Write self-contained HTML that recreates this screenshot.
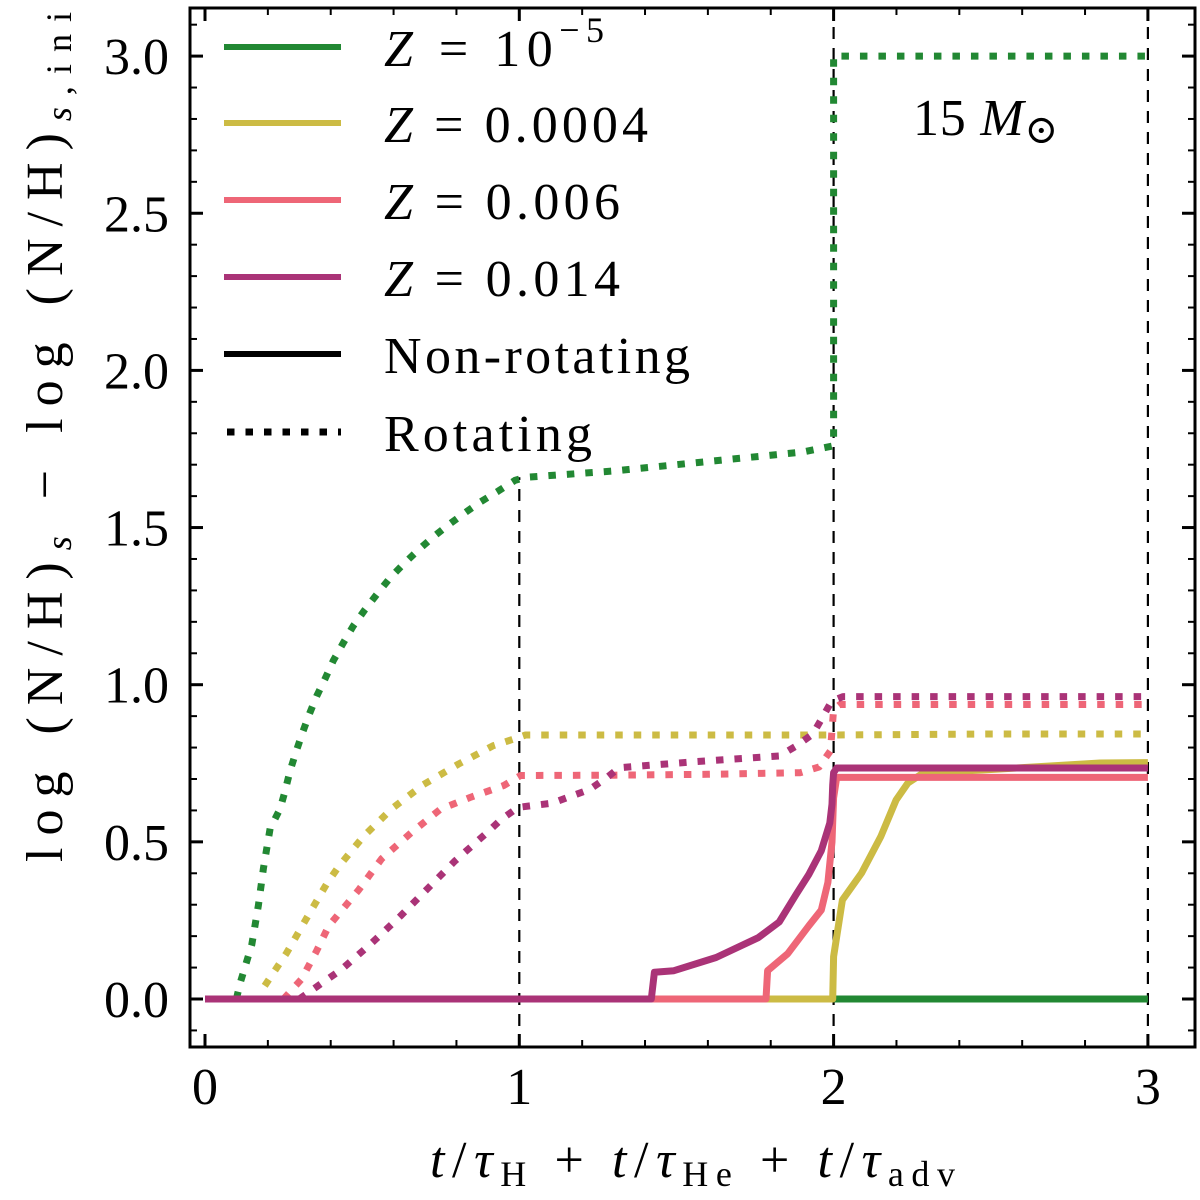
<!DOCTYPE html>
<html><head><meta charset="utf-8"><style>
html,body{margin:0;padding:0;background:#fff;}
svg{display:block;font-family:"Liberation Serif","DejaVu Serif",serif;}
</style></head><body>
<svg id="chart" width="1200" height="1200" viewBox="0 0 1200 1200" xmlns="http://www.w3.org/2000/svg">
<g id="plot"></g>
<g id="axes"></g>
<g id="legend">
  <line x1="224" y1="47" x2="341" y2="47" stroke="#228833" stroke-width="6"/>
  <text x="384" y="66" font-size="52" textLength="220" lengthAdjust="spacing"><tspan font-style="italic">Z</tspan> = 10<tspan font-size="36" dy="-24">−5</tspan></text>
  <line x1="224" y1="123" x2="341" y2="123" stroke="#CCBB44" stroke-width="6"/>
  <text x="384" y="142" font-size="52" textLength="264" lengthAdjust="spacing"><tspan font-style="italic">Z</tspan> = 0.0004</text>
  <line x1="224" y1="200" x2="341" y2="200" stroke="#EE6677" stroke-width="6"/>
  <text x="384" y="219" font-size="52" textLength="236" lengthAdjust="spacing"><tspan font-style="italic">Z</tspan> = 0.006</text>
  <line x1="224" y1="277" x2="341" y2="277" stroke="#AA3377" stroke-width="6"/>
  <text x="384" y="296" font-size="52" textLength="236" lengthAdjust="spacing"><tspan font-style="italic">Z</tspan> = 0.014</text>
  <line x1="224" y1="354" x2="341" y2="354" stroke="#000" stroke-width="6"/>
  <text x="384" y="373" font-size="52" textLength="306" lengthAdjust="spacing">Non-rotating</text>
  <line x1="227" y1="432" x2="341" y2="432" stroke="#000" stroke-width="7" stroke-dasharray="7.5 11"/>
  <text x="384" y="451" font-size="52" textLength="208" lengthAdjust="spacing">Rotating</text>
</g>
<text x="913" y="135" font-size="52" textLength="145" lengthAdjust="spacing">15 <tspan font-style="italic">M</tspan><tspan font-size="40" dy="8">⊙</tspan></text>
<text x="430" y="1177" font-size="52" textLength="525" lengthAdjust="spacing"><tspan font-style="italic">t</tspan>/<tspan font-style="italic">τ</tspan><tspan font-size="36" dy="9">H</tspan><tspan dy="-9"> + </tspan><tspan font-style="italic">t</tspan>/<tspan font-style="italic">τ</tspan><tspan font-size="36" dy="9">He</tspan><tspan dy="-9"> + </tspan><tspan font-style="italic">t</tspan>/<tspan font-style="italic">τ</tspan><tspan font-size="36" dy="9">adv</tspan></text>
<text transform="translate(62,862) rotate(-90)" font-size="52" textLength="850" lengthAdjust="spacing">log (N/H)<tspan font-size="36" font-style="italic" dy="9">s</tspan><tspan dy="-9"> − log (N/H)</tspan><tspan font-size="36" dy="9"><tspan font-style="italic">s</tspan>,ini</tspan></text>
</svg>
<script>
const xTicks = [0, 1, 2, 3];
const xTickLabels = ["0", "1", "2", "3"];
const yTicks = [0, 0.5, 1, 1.5, 2, 2.5, 3];
const yTickLabels = ["0.0", "0.5", "1.0", "1.5", "2.0", "2.5", "3.0"];
const phaseLines = [1, 2, 3];
const phaseLineTops = [1.66, 3.163, 3.163];

const rotZ1e5X = [0.1,0.111,0.149,0.17,0.186,0.207,0.239,0.255,0.27,0.29,0.311,0.331,0.355,0.382,0.408,0.44,0.472,0.509,0.548,0.589,0.631,0.679,0.727,0.774,0.827,0.877,0.933,0.986,1.02,1.3,1.6,1.9,2.0,2.0,2.5,3.0];
const rotZ1e5Y = [0,0.048,0.173,0.298,0.417,0.542,0.605,0.662,0.724,0.787,0.849,0.904,0.963,1.019,1.076,1.133,1.187,1.239,1.289,1.34,1.383,1.429,1.471,1.508,1.547,1.582,1.616,1.65,1.66,1.68,1.71,1.74,1.76,3.0,3.0,3.0];
const rotZ4e4X = [0.19,0.26,0.324,0.387,0.424,0.504,0.594,0.695,0.806,0.917,0.979,1.02,1.5,2.0,2.5,3.0];
const rotZ4e4Y = [0.042,0.147,0.258,0.366,0.42,0.517,0.605,0.682,0.747,0.806,0.826,0.84,0.84,0.84,0.843,0.843];
const rotZ6e3X = [0.25,0.307,0.354,0.394,0.488,0.562,0.655,0.749,0.843,0.95,1.004,1.3,1.6,1.894,1.954,1.99,1.995,2.0,2.02,2.5,3.0];
const rotZ6e3Y = [0,0.063,0.151,0.233,0.346,0.446,0.528,0.604,0.641,0.679,0.711,0.712,0.715,0.72,0.738,0.79,0.856,0.92,0.937,0.937,0.937];
const rotZ14e3X = [0.3,0.381,0.434,0.528,0.622,0.709,0.796,0.896,0.943,0.997,1.104,1.224,1.278,1.318,1.559,1.827,1.881,1.934,1.988,2.0,2.03,2.5,3.0];
const rotZ14e3Y = [0,0.057,0.094,0.176,0.264,0.352,0.44,0.528,0.572,0.61,0.623,0.667,0.704,0.736,0.755,0.773,0.805,0.843,0.937,0.95,0.962,0.962,0.962];

const nonZ1e5X = [0,1,2,3];
const nonZ1e5Y = [0,0,0,0];
const nonZ4e4X = [0,1.99,1.997,2.0,2.028,2.089,2.15,2.199,2.236,2.285,2.48,2.848,3.0];
const nonZ4e4Y = [0,0,0,0.135,0.315,0.401,0.516,0.633,0.687,0.719,0.729,0.751,0.752];
const nonZ6e3X = [0,1.785,1.79,1.854,1.921,1.961,1.982,1.995,2.0,2.01,3.0];
const nonZ6e3Y = [0,0,0.09,0.144,0.233,0.283,0.371,0.5,0.64,0.705,0.705];
const nonZ14e3X = [0,1.42,1.43,1.492,1.626,1.76,1.827,1.881,1.921,1.961,1.988,1.995,1.997,2.0,2.01,3.0];
const nonZ14e3Y = [0,0,0.085,0.09,0.132,0.195,0.245,0.333,0.396,0.472,0.56,0.62,0.68,0.72,0.735,0.735];

const X0 = 190, X1 = 1195, Y0 = 8, Y1 = 1047;
function sx(v){ return 205 + v * 314.3; }
function sy(v){ return 999 - v * 314.3; }
const NS = "http://www.w3.org/2000/svg";
const plot = document.getElementById('plot');
const axes = document.getElementById('axes');
function mk(tag, attrs, parent){
  const e = document.createElementNS(NS, tag);
  for (const k in attrs) e.setAttribute(k, attrs[k]);
  parent.appendChild(e);
  return e;
}
phaseLines.forEach((v, i) => {
  const l = mk('line', {x1: sx(v), x2: sx(v), y1: Y1, y2: Math.max(Y0, sy(phaseLineTops[i])), stroke: '#000', 'stroke-width': 2.2, 'stroke-dasharray': '12 9'}, plot);
  
  
});
function series(xs, ys, color, dotted, name){
  const d = xs.map((x, i) => (i ? 'L' : 'M') + sx(x).toFixed(1) + ' ' + sy(ys[i]).toFixed(1)).join(' ');
  const attrs = {d: d, fill: 'none', stroke: color, 'stroke-linejoin': 'round'};
  if (dotted) { attrs['stroke-width'] = 7; attrs['stroke-dasharray'] = '7.5 11'; }
  else { attrs['stroke-width'] = 7; }
  const p = mk('path', attrs, plot);
  
  
}
series(rotZ1e5X, rotZ1e5Y, '#228833', true, 'rotating-z1e-5-line');
series(rotZ4e4X, rotZ4e4Y, '#CCBB44', true, 'rotating-z0.0004-line');
series(rotZ6e3X, rotZ6e3Y, '#EE6677', true, 'rotating-z0.006-line');
series(rotZ14e3X, rotZ14e3Y, '#AA3377', true, 'rotating-z0.014-line');
series(nonZ1e5X, nonZ1e5Y, '#228833', false, 'nonrotating-z1e-5-line');
series(nonZ4e4X, nonZ4e4Y, '#CCBB44', false, 'nonrotating-z0.0004-line');
series(nonZ6e3X, nonZ6e3Y, '#EE6677', false, 'nonrotating-z0.006-line');
series(nonZ14e3X, nonZ14e3Y, '#AA3377', false, 'nonrotating-z0.014-line');

const fr = mk('rect', {x: X0, y: Y0, width: X1 - X0, height: Y1 - Y0, fill: 'none', stroke: '#000', 'stroke-width': 3}, axes);


for (let k = 0; k <= 15; k++) {
  const v = k * 0.2;
  const major = k % 5 === 0;
  const len = major ? 13 : 7;
  const x = sx(v);
  const t1 = mk('line', {x1: x, x2: x, y1: Y1, y2: Y1 - len, stroke: '#000', 'stroke-width': major ? 3 : 2}, axes);
  
  
  const t2 = mk('line', {x1: x, x2: x, y1: Y0, y2: Y0 + len, stroke: '#000', 'stroke-width': major ? 3 : 2}, axes);
  
  
}
xTicks.forEach((v, i) => {
  const t = mk('text', {x: sx(v), y: 1104, 'font-size': 52, 'text-anchor': 'middle'}, axes);
  t.textContent = xTickLabels[i];
  
  
});
for (let k = -1; k <= 31; k++) {
  const v = k * 0.1;
  const y = sy(v);
  if (y < Y0 || y > Y1) continue;
  const major = ((k % 5) + 5) % 5 === 0;
  const len = major ? 13 : 7;
  const t1 = mk('line', {x1: X0, x2: X0 + len, y1: y, y2: y, stroke: '#000', 'stroke-width': major ? 3 : 2}, axes);
  
  
  const t2 = mk('line', {x1: X1, x2: X1 - len, y1: y, y2: y, stroke: '#000', 'stroke-width': major ? 3 : 2}, axes);
  
  
}
yTicks.forEach((v, i) => {
  const t = mk('text', {x: 169, y: sy(v) + 18, 'font-size': 52, 'text-anchor': 'end'}, axes);
  t.textContent = yTickLabels[i];
  
  
});
</script>
</body></html>
